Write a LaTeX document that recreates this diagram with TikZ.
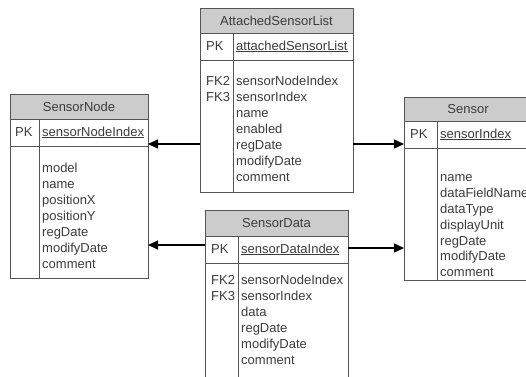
\documentclass[tikz,border=0pt]{standalone}
\usepackage{fontspec}
\setmainfont{Liberation Sans}
\usetikzlibrary{positioning,arrows.meta}
\definecolor{tblline}{RGB}{85,85,85}
\definecolor{hdrfill}{RGB}{204,204,204}
\definecolor{txt}{RGB}{60,60,60}
\begin{document}
\begin{tikzpicture}[x=1pt,y=-1pt,
    tbl/.style={draw=tblline,line width=0.9pt,inner sep=0pt,outer sep=0pt,text=txt,font=\fontsize{13}{16}\selectfont},
    hdr/.style={tbl,fill=hdrfill},
    row/.style={tbl,fill=white},
    fld/.style={inner sep=0pt,text=txt,font=\fontsize{13}{16}\selectfont},
    fk/.style={line width=1.2pt,-{Triangle[length=10pt,width=9pt]}}]
                    \useasboundingbox[fill=white] (0,0) rectangle (526,376);
                    \node[hdr,minimum width=153,minimum height=25] (asl) at (276.5,20.5) {AttachedSensorList};
                    \node[row,minimum width=153,minimum height=27,below=0pt of asl] (asl-pk) {};
                    \node[row,minimum width=153,minimum height=132,below=0pt of asl-pk] (asl-body) {};
                    \draw[tblline,line width=0.9pt] ([xshift=33pt]asl-pk.north west) -- ([xshift=33pt]asl-body.south west);
                    \node[fld,anchor=west] (asl-pkk) at ([xshift=6pt]asl-pk.west) {PK};
                    \node[fld,anchor=west] (asl-pkn) at ([xshift=36pt]asl-pk.west) {\underline{attachedSensorList}};
                    \foreach \k [count=\i] in {FK2,FK3}
                    \node[fld,anchor=base west] (asl-k\i) at ([xshift=6pt,yshift=-9pt-16pt*\i]asl-body.north west) {\k};
                    \foreach \f [count=\i] in {sensorNodeIndex,sensorIndex,name,enabled,regDate,modifyDate,comment}
                    \node[fld,anchor=base west] (asl-f\i) at ([xshift=36pt,yshift=-9pt-16pt*\i]asl-body.north west) {\f};
                    \node[hdr,minimum width=138,minimum height=25] (sn) at (79,106.5) {SensorNode};
                    \node[row,minimum width=138,minimum height=27,below=0pt of sn] (sn-pk) {};
                    \node[row,minimum width=138,minimum height=132,below=0pt of sn-pk] (sn-body) {};
                    \draw[tblline,line width=0.9pt] ([xshift=29pt]sn-pk.north west) -- ([xshift=29pt]sn-body.south west);
                    \node[fld,anchor=west] (sn-pkk) at ([xshift=5pt]sn-pk.west) {PK};
                    \node[fld,anchor=west] (sn-pkn) at ([xshift=32pt]sn-pk.west) {\underline{sensorNodeIndex}};
                    \foreach \f [count=\i] in {model,name,positionX,positionY,regDate,modifyDate,comment}
                    \node[fld,anchor=base west] (sn-f\i) at ([xshift=32pt,yshift=-10pt-16pt*\i]sn-body.north west) {\f};
                    \node[hdr,minimum width=128,minimum height=24] (sen) at (468,109) {Sensor};
                    \node[row,minimum width=128,minimum height=27,below=0pt of sen] (sen-pk) {};
                    \node[row,minimum width=128,minimum height=132,below=0pt of sen-pk] (sen-body) {};
                    \draw[tblline,line width=0.9pt] ([xshift=33pt]sen-pk.north west) -- ([xshift=33pt]sen-body.south west);
                    \node[fld,anchor=west] (sen-pkk) at ([xshift=6pt]sen-pk.west) {PK};
                    \node[fld,anchor=west] (sen-pkn) at ([xshift=36pt]sen-pk.west) {\underline{sensorIndex}};
                    \foreach \f [count=\i] in {name,dataFieldName,dataType,displayUnit,regDate,modifyDate,comment}
                    \node[fld,anchor=base west] (sen-f\i) at ([xshift=36pt,yshift=-18pt-15.8pt*\i]sen-body.north west) {\f};
                    \node[hdr,minimum width=143,minimum height=26] (sd) at (276.5,223) {SensorData};
                    \node[row,minimum width=143,minimum height=27,below=0pt of sd] (sd-pk) {};
                    \node[row,minimum width=143,minimum height=140,below=0pt of sd-pk] (sd-body) {};
                    \draw[tblline,line width=0.9pt] ([xshift=33pt]sd-pk.north west) -- ([xshift=33pt]sd-body.south west);
                    \node[fld,anchor=west] (sd-pkk) at ([xshift=6pt]sd-pk.west) {PK};
                    \node[fld,anchor=west] (sd-pkn) at ([xshift=36pt]sd-pk.west) {\underline{sensorDataIndex}};
                    \foreach \k [count=\i] in {FK2,FK3}
                    \node[fld,anchor=base west] (sd-k\i) at ([xshift=6pt,yshift=-5pt-16pt*\i]sd-body.north west) {\k};
                    \foreach \f [count=\i] in {sensorNodeIndex,sensorIndex,data,regDate,modifyDate,comment}
                    \node[fld,anchor=base west] (sd-f\i) at ([xshift=36pt,yshift=-5pt-16pt*\i]sd-body.north west) {\f};
                    \draw[fk] (asl-body.west |- 0,144) -- (sn-pk.east |- 0,144);
                    \draw[fk] (asl-body.east |- 0,144) -- (sen-pk.west |- 0,144);
                    \draw[fk] (sd-pk.west |- 0,245) -- (sn-body.east |- 0,245);
                    \draw[fk] (sd-pk.east |- 0,248) -- (sen-body.west |- 0,248);
                \end{tikzpicture}
\end{document}
